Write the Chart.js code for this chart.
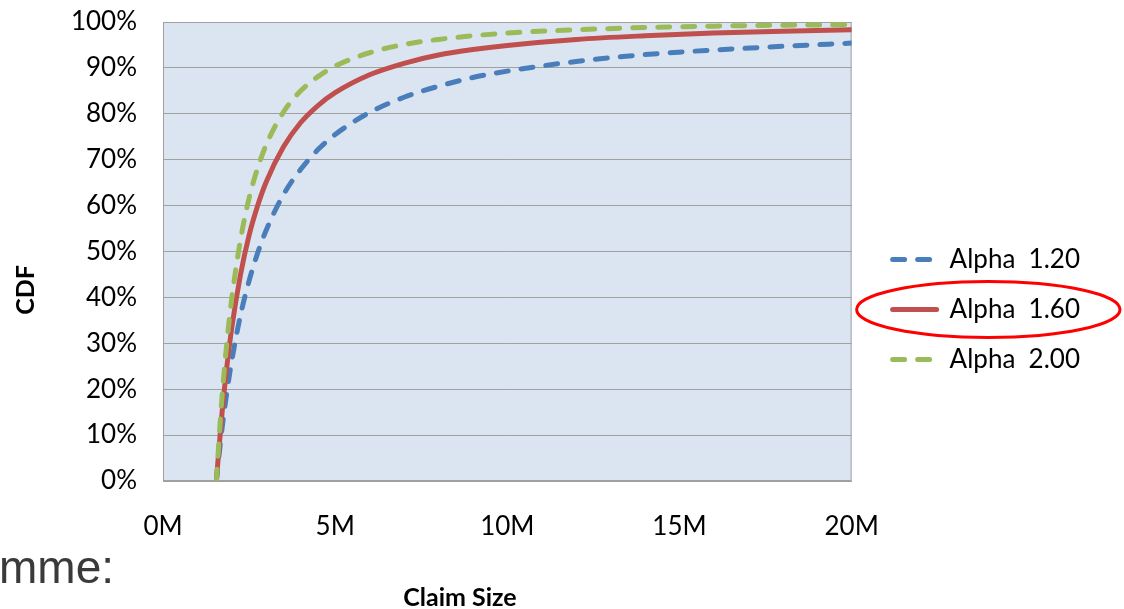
<!DOCTYPE html>
<html>
<head>
<meta charset="utf-8">
<script src="https://cdn.jsdelivr.net/npm/chart.js@4/dist/chart.umd.min.js"></script>
<style>
  html, body { margin: 0; padding: 0; background: #fff; }
</style>
</head>
<body>
<canvas id="cdfChart" width="1124" height="609"></canvas>
<script>
// claim size in millions, CDF in percent
const claimSize = [1.55, 1.7, 1.85, 2.0, 2.25, 2.5, 2.75, 3.0, 3.5, 4.0, 4.5, 5.0, 6.0, 7.0, 8.0, 9.0, 10.0, 12.0, 14.0, 16.0, 18.0, 20.0];
const alpha120 = [0, 10.5, 19.1, 26.3, 36.1, 43.6, 49.7, 54.7, 62.4, 67.9, 72.2, 75.5, 80.3, 83.6, 86.0, 87.9, 89.3, 91.4, 92.9, 93.9, 94.7, 95.4];
const alpha160 = [0, 13.7, 24.6, 33.5, 44.9, 53.5, 60.0, 65.2, 72.8, 78.1, 81.8, 84.6, 88.5, 91.0, 92.8, 94.0, 94.9, 96.2, 97.0, 97.6, 98.0, 98.3];
const alpha200 = [0, 16.9, 29.8, 39.9, 52.5, 61.6, 68.2, 73.3, 80.4, 85.0, 88.1, 90.4, 93.3, 95.1, 96.2, 97.0, 97.6, 98.3, 98.8, 99.1, 99.3, 99.4];
const seriesNames = ['Alpha  1.20', 'Alpha  1.60', 'Alpha  2.00'];
const seriesColors = ['#4a7ebb', '#c0504d', '#9bbb59'];

const toPoints = (ys) => ys.map((y, i) => ({ x: claimSize[i], y }));

const TICK_FONT = { family: 'Lato', size: 26 };

// plot area fill + border, axis titles, stray slide text and the red highlight ellipse
const decorations = {
  id: 'decorations',
  beforeDraw(chart) {
    const { ctx, chartArea: a } = chart;
    ctx.save();
    ctx.fillStyle = '#dbe5f1';
    ctx.fillRect(a.left, a.top, a.right - a.left, a.bottom - a.top);
    ctx.restore();
  },
  beforeDatasetsDraw(chart) {
    const { ctx, chartArea: a } = chart;
    ctx.save();
    ctx.strokeStyle = '#a0a0a0';
    ctx.lineWidth = 1;
    ctx.strokeRect(a.left + 0.5, a.top + 0.5, a.right - a.left - 1, a.bottom - a.top - 1);
    ctx.restore();
  },
  afterDraw(chart) {
    const { ctx } = chart;
    ctx.save();
    ctx.fillStyle = '#000';
    ctx.font = 'bold 25px Lato';
    ctx.textAlign = 'center';
    ctx.textBaseline = 'middle';
    ctx.fillText('Claim Size', 460, 598);

    ctx.translate(26, 290);
    ctx.rotate(-Math.PI / 2);
    ctx.fillText('CDF', 0, 0);
    ctx.restore();

    ctx.save();
    ctx.fillStyle = '#3a3a3a';
    ctx.font = '46px "Liberation Sans", Arial, sans-serif';
    ctx.textBaseline = 'alphabetic';
    ctx.fillText('mme:', -1, 583);
    ctx.restore();

    const hb = chart.legend.legendHitBoxes[1];
    if (hb) {
      ctx.save();
      ctx.strokeStyle = '#ff0000';
      ctx.lineWidth = 3;
      ctx.beginPath();
      ctx.ellipse(hb.left + hb.width / 2 + 2, hb.top + hb.height / 2, hb.width / 2 + 38, 28, 0, 0, Math.PI * 2);
      ctx.stroke();
      ctx.restore();
    }
  }
};

new Chart(document.getElementById('cdfChart'), {
  type: 'line',
  data: {
    datasets: [
      {
        label: seriesNames[0],
        data: toPoints(alpha120),
        borderColor: seriesColors[0],
        backgroundColor: seriesColors[0],
        borderWidth: 5,
        borderDash: [12, 13],
        borderCapStyle: 'round',
        order: 3
      },
      {
        label: seriesNames[1],
        data: toPoints(alpha160),
        borderColor: seriesColors[1],
        backgroundColor: seriesColors[1],
        borderWidth: 5,
        borderCapStyle: 'round',
        order: 2
      },
      {
        label: seriesNames[2],
        data: toPoints(alpha200),
        borderColor: seriesColors[2],
        backgroundColor: seriesColors[2],
        borderWidth: 5,
        borderDash: [12, 13],
        borderCapStyle: 'round',
        order: 1
      }
    ]
  },
  options: {
    responsive: false,
    animation: false,
    cubicInterpolationMode: 'monotone',
    pointRadius: 0,
    pointStyle: 'line',
    layout: { padding: { top: 22, right: 34, bottom: 12, left: 0 } },
    scales: {
      x: {
        type: 'linear',
        min: 0,
        max: 20,
        grid: { display: false, drawTicks: false },
        border: { display: true, color: '#a0a0a0' },
        ticks: {
          stepSize: 5,
          padding: 30,
          color: '#000',
          font: TICK_FONT,
          callback: (v) => v + 'M'
        },
        afterFit(scale) { scale.height = 116; }
      },
      y: {
        min: 0,
        max: 100,
        grid: { color: '#a0a0a0', lineWidth: 1, drawTicks: false },
        border: { display: true, color: '#a0a0a0' },
        ticks: {
          stepSize: 10,
          padding: 26,
          color: '#000',
          font: TICK_FONT,
          callback: (v) => v + '%'
        },
        afterFit(scale) {
          scale.width = 163;
          scale.paddingTop = 16;
          scale.paddingBottom = 16;
        }
      },
      // empty axis that only keeps a gap between plot and legend
      gap: {
        type: 'linear',
        position: 'right',
        grid: { display: false, drawTicks: false },
        border: { display: false },
        ticks: { display: false },
        afterFit(scale) { scale.width = 17; }
      }
    },
    plugins: {
      legend: {
        position: 'right',
        maxWidth: 300,
        labels: {
          usePointStyle: true,
          pointStyleWidth: 44,
          padding: 24,
          color: '#000',
          font: TICK_FONT,
          generateLabels(chart) {
            const items = Chart.defaults.plugins.legend.labels.generateLabels(chart);
            items.forEach((item) => {
              const ds = chart.data.datasets[item.datasetIndex];
              item.lineDash = ds.borderDash || [];
              item.lineWidth = ds.borderWidth;
              item.lineCap = 'round';
              item.pointStyle = 'line';
            });
            return items;
          },
          sort: (a, b) => a.datasetIndex - b.datasetIndex
        }
      },
      tooltip: { enabled: false }
    }
  },
  plugins: [decorations]
});
</script>
</body>
</html>
